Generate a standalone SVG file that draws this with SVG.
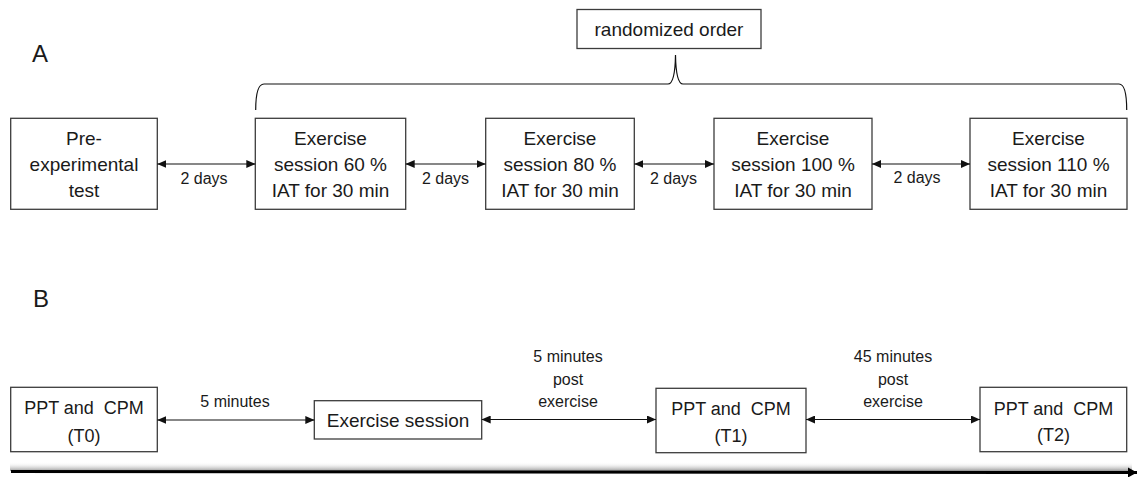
<svg xmlns="http://www.w3.org/2000/svg" width="1137" height="479" viewBox="0 0 1137 479">
<style>
text{font-family:"Liberation Sans",Arial,sans-serif;fill:#1a1a1a;text-anchor:middle;white-space:pre}
.box{fill:#fff;stroke:#3c3c3c;stroke-width:1.3}
.t19{font-size:19px}
.t18{font-size:18px}
.lbl{font-size:16px}
.big{font-size:24px;text-anchor:start}
.con{stroke:#111;stroke-width:1.2;fill:none}
.dbl{marker-start:url(#ah);marker-end:url(#ah)}
</style>
<defs>
<marker id="ah" viewBox="0 0 9 8" refX="9" refY="4" markerWidth="9" markerHeight="8" markerUnits="userSpaceOnUse" orient="auto-start-reverse">
<path d="M0,0 L9,4 L0,8 z" fill="#111"/>
</marker>
<marker id="tl" viewBox="0 0 9 10" refX="9" refY="5" markerWidth="9" markerHeight="10" markerUnits="userSpaceOnUse" orient="auto">
<path d="M0,0 L9,5 L0,10 z" fill="#000"/>
</marker>
<linearGradient id="sh" x1="0" y1="0" x2="0" y2="1">
<stop offset="0" stop-color="#fff" stop-opacity="0"/>
<stop offset="1" stop-color="#9a9a9a"/>
</linearGradient>
</defs>

<text class="big" x="32" y="62">A</text>
<text class="big" x="33" y="307">B</text>

<g id="randomized">
<rect class="box" x="577" y="9.5" width="184" height="39"/>
<text class="t19" x="669" y="36">randomized order</text>
</g>

<g id="bracket">
<path class="con" stroke="#3c3c3c" d="M255.7,110 Q255.7,84 264,84 L668,84 Q675,84 675.5,55 Q676,84 683,84 L1119,84 Q1126.7,84 1126.7,110"/>
</g>

<g id="pre">
<rect class="box" x="10.7" y="118.3" width="146.6" height="91"/>
<text class="t19" x="84" y="145">Pre-</text>
<text class="t19" x="84" y="171">experimental</text>
<text class="t19" x="84" y="197">test</text>
</g>
<g id="ex60">
<rect class="box" x="255.3" y="118.3" width="150.4" height="91"/>
<text class="t19" x="330.5" y="145">Exercise</text>
<text class="t19" x="330.5" y="171">session 60 %</text>
<text class="t19" x="330.5" y="197">IAT for 30 min</text>
</g>
<g id="ex80">
<rect class="box" x="485.7" y="118.3" width="148.6" height="91"/>
<text class="t19" x="560" y="145">Exercise</text>
<text class="t19" x="560" y="171">session 80 %</text>
<text class="t19" x="560" y="197">IAT for 30 min</text>
</g>
<g id="ex100">
<rect class="box" x="714" y="118.3" width="158" height="91"/>
<text class="t19" x="793" y="145">Exercise</text>
<text class="t19" x="793" y="171">session 100 %</text>
<text class="t19" x="793" y="197">IAT for 30 min</text>
</g>
<g id="ex110">
<rect class="box" x="970" y="118.3" width="157" height="91"/>
<text class="t19" x="1048.5" y="145">Exercise</text>
<text class="t19" x="1048.5" y="171">session 110 %</text>
<text class="t19" x="1048.5" y="197">IAT for 30 min</text>
</g>

<g id="t0">
<rect class="box" x="10.7" y="387.3" width="146.6" height="64.4"/>
<text class="t18" x="84" y="413.5">PPT and  CPM</text>
<text class="t18" x="84" y="441.5">(T0)</text>
</g>
<g id="exsession">
<rect class="box" x="314.3" y="400.7" width="167.4" height="38.3"/>
<text class="t19" x="398" y="427">Exercise session</text>
</g>
<g id="t1">
<rect class="box" x="656" y="388.3" width="150" height="64.4"/>
<text class="t18" x="731" y="415">PPT and  CPM</text>
<text class="t18" x="731" y="441.7">(T1)</text>
</g>
<g id="t2">
<rect class="box" x="980" y="387.3" width="146.7" height="64.4"/>
<text class="t18" x="1053.5" y="414.5">PPT and  CPM</text>
<text class="t18" x="1053.5" y="441">(T2)</text>
</g>

<g id="connectors">
<line class="con dbl" x1="157.3" y1="164" x2="255.3" y2="164"/>
<line class="con dbl" x1="405.7" y1="164" x2="485.7" y2="164"/>
<line class="con dbl" x1="634.3" y1="164" x2="714" y2="164"/>
<line class="con dbl" x1="872" y1="164" x2="970" y2="164"/>
<line class="con dbl" x1="157.3" y1="420" x2="314.3" y2="420"/>
<line class="con dbl" x1="481.7" y1="419.5" x2="656" y2="419.5"/>
<line class="con dbl" x1="806" y1="419.5" x2="980" y2="419.5"/>
<text class="lbl" x="204" y="184">2 days</text>
<text class="lbl" x="445.5" y="184">2 days</text>
<text class="lbl" x="673.5" y="184">2 days</text>
<text class="lbl" x="917" y="183">2 days</text>
<text class="lbl" x="235" y="407">5 minutes</text>
<text class="lbl" x="568" y="362">5 minutes</text>
<text class="lbl" x="568" y="384.5">post</text>
<text class="lbl" x="568" y="407">exercise</text>
<text class="lbl" x="893" y="362">45 minutes</text>
<text class="lbl" x="893" y="384.5">post</text>
<text class="lbl" x="893" y="407">exercise</text>
</g>

<g id="timeline">
<rect x="10" y="462" width="1122" height="9" fill="url(#sh)"/>
<line x1="11" y1="471.5" x2="1137" y2="472.5" stroke="#000" stroke-width="3" marker-end="url(#tl)"/>
</g>
</svg>
